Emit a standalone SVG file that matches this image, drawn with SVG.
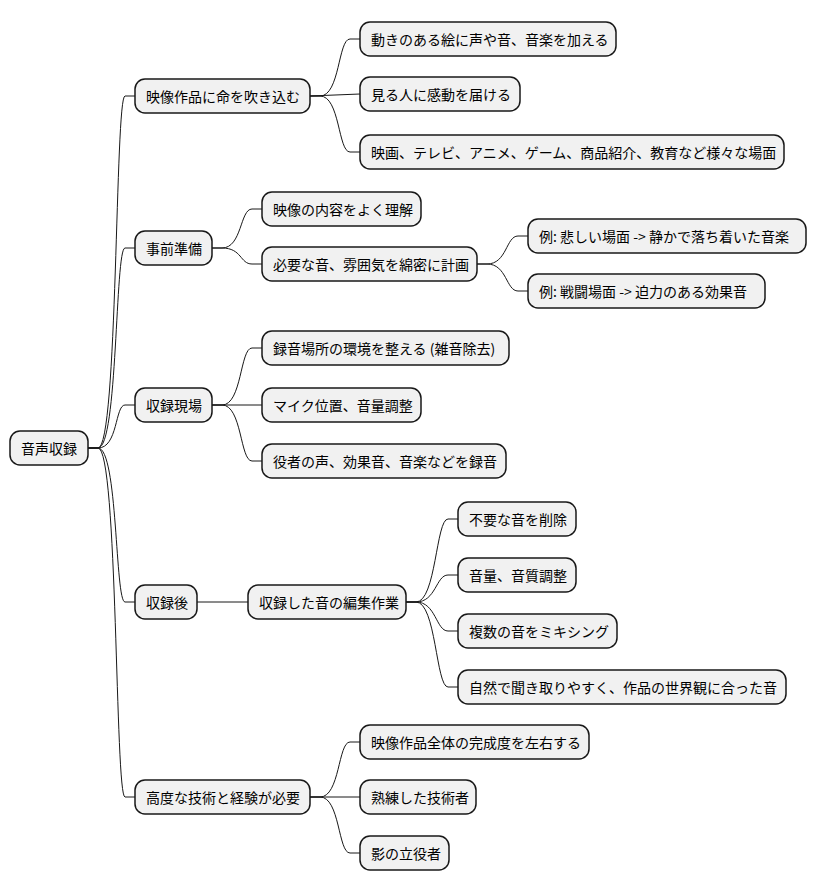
<svg xmlns="http://www.w3.org/2000/svg" width="817" height="893" viewBox="0 0 817 893">
<style>
.n rect{fill:#f1f1f1;stroke:#181818;stroke-width:1.5}
.n text{font-family:"Noto Sans CJK JP","Noto Sans",sans-serif;font-size:14px;fill:#000;dominant-baseline:central}
#c path{fill:none;stroke:#181818;stroke-width:1}
</style>
<rect width="817" height="893" fill="#fff"/>
<g id="c">
<path d="M88 448 L98 448 C118 448 115 96 125 96 L135 96"/>
<path d="M88 448 L98 448 C118 448 115 248 125 248 L135 248"/>
<path d="M88 448 L98 448 C118 448 115 405 125 405 L135 405"/>
<path d="M88 448 L98 448 C118 448 115 602 125 602 L135 602"/>
<path d="M88 448 L98 448 C118 448 115 797 125 797 L135 797"/>
<path d="M310 96 L320 96 C340 96 338 39 350 39 L360 39"/>
<path d="M310 96 L360 94"/>
<path d="M310 96 L320 96 C340 96 338 152 350 152 L360 152"/>
<path d="M212 248 L222 248 C242 248 240 209 252 209 L262 209"/>
<path d="M212 248 L222 248 C242 248 240 264 252 264 L262 264"/>
<path d="M477 264 L487 264 C507 264 506 236 518 236 L528 236"/>
<path d="M477 264 L487 264 C507 264 506 291 518 291 L528 291"/>
<path d="M212 405 L222 405 C242 405 240 348 252 348 L262 348"/>
<path d="M212 405 L262 405"/>
<path d="M212 405 L222 405 C242 405 240 461 252 461 L262 461"/>
<path d="M197 602 L248 602"/>
<path d="M406 602 L416 602 C436 602 436 519 448 519 L458 519"/>
<path d="M406 602 L416 602 C436 602 436 575 448 575 L458 575"/>
<path d="M406 602 L416 602 C436 602 436 631 448 631 L458 631"/>
<path d="M406 602 L416 602 C436 602 436 687 448 687 L458 687"/>
<path d="M310 797 L320 797 C340 797 338 742 350 742 L360 742"/>
<path d="M310 797 L360 797"/>
<path d="M310 797 L320 797 C340 797 338 853 350 853 L360 853"/>
</g>
<g id="root" class="n"><rect x="10" y="431" width="78" height="34" rx="10"/><text x="21" y="448">音声収録</text></g>
<g id="a" class="n"><rect x="135" y="79" width="175" height="34" rx="10"/><text x="146" y="96">映像作品に命を吹き込む</text></g>
<g id="a1" class="n"><rect x="360" y="22" width="256" height="34" rx="10"/><text x="371" y="39">動きのある絵に声や音、音楽を加える</text></g>
<g id="a2" class="n"><rect x="360" y="77" width="160" height="34" rx="10"/><text x="371" y="94">見る人に感動を届ける</text></g>
<g id="a3" class="n"><rect x="360" y="135" width="424" height="34" rx="10"/><text x="371" y="152">映画、テレビ、アニメ、ゲーム、商品紹介、教育など様々な場面</text></g>
<g id="b" class="n"><rect x="135" y="231" width="77" height="34" rx="10"/><text x="146" y="248">事前準備</text></g>
<g id="b1" class="n"><rect x="262" y="192" width="159" height="34" rx="10"/><text x="273" y="209">映像の内容をよく理解</text></g>
<g id="b2" class="n"><rect x="262" y="247" width="215" height="34" rx="10"/><text x="273" y="264">必要な音、雰囲気を綿密に計画</text></g>
<g id="b21" class="n"><rect x="528" y="219" width="278" height="34" rx="10"/><text x="539" y="236">例: 悲しい場面 -&gt; 静かで落ち着いた音楽</text></g>
<g id="b22" class="n"><rect x="528" y="274" width="237" height="34" rx="10"/><text x="539" y="291">例: 戦闘場面 -&gt; 迫力のある効果音</text></g>
<g id="c0" class="n"><rect x="135" y="388" width="77" height="34" rx="10"/><text x="146" y="405">収録現場</text></g>
<g id="c1" class="n"><rect x="262" y="331" width="247" height="34" rx="10"/><text x="273" y="348">録音場所の環境を整える (雑音除去)</text></g>
<g id="c2" class="n"><rect x="262" y="388" width="159" height="34" rx="10"/><text x="273" y="405">マイク位置、音量調整</text></g>
<g id="c3" class="n"><rect x="262" y="444" width="244" height="34" rx="10"/><text x="273" y="461">役者の声、効果音、音楽などを録音</text></g>
<g id="d" class="n"><rect x="135" y="585" width="62" height="34" rx="10"/><text x="146" y="602">収録後</text></g>
<g id="d1" class="n"><rect x="248" y="585" width="158" height="34" rx="10"/><text x="259" y="602">収録した音の編集作業</text></g>
<g id="d11" class="n"><rect x="458" y="502" width="118" height="34" rx="10"/><text x="469" y="519">不要な音を削除</text></g>
<g id="d12" class="n"><rect x="458" y="558" width="118" height="34" rx="10"/><text x="469" y="575">音量、音質調整</text></g>
<g id="d13" class="n"><rect x="458" y="614" width="159" height="34" rx="10"/><text x="469" y="631">複数の音をミキシング</text></g>
<g id="d14" class="n"><rect x="458" y="670" width="328" height="34" rx="10"/><text x="469" y="687">自然で聞き取りやすく、作品の世界観に合った音</text></g>
<g id="e" class="n"><rect x="135" y="780" width="175" height="34" rx="10"/><text x="146" y="797">高度な技術と経験が必要</text></g>
<g id="e1" class="n"><rect x="360" y="725" width="229" height="34" rx="10"/><text x="371" y="742">映像作品全体の完成度を左右する</text></g>
<g id="e2" class="n"><rect x="360" y="780" width="116" height="34" rx="10"/><text x="371" y="797">熟練した技術者</text></g>
<g id="e3" class="n"><rect x="360" y="836" width="89" height="34" rx="10"/><text x="371" y="853">影の立役者</text></g>
</svg>
